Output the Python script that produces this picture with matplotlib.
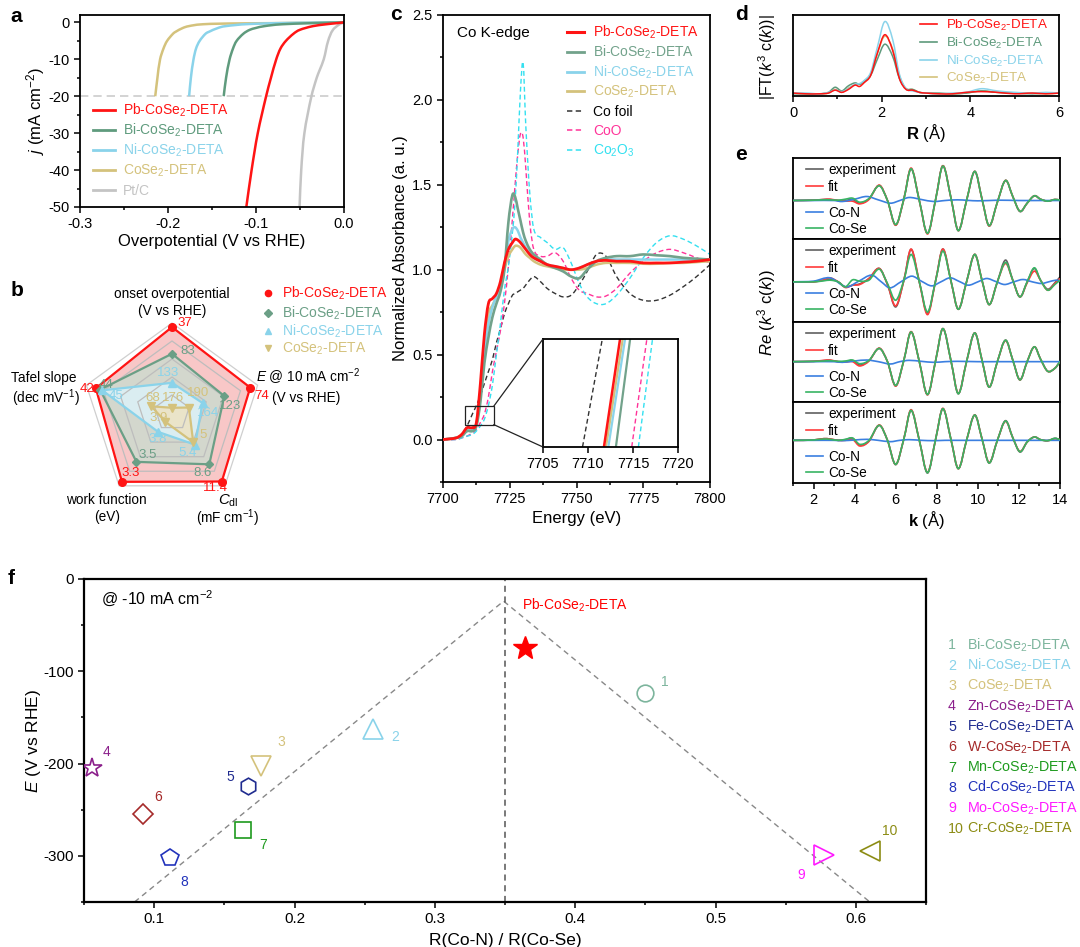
import numpy as np
import matplotlib
matplotlib.use("Agg")
import matplotlib.pyplot as plt
from matplotlib.path import Path
from matplotlib.patches import PathPatch, Rectangle, Polygon, ConnectionPatch
from matplotlib.lines import Line2D
from matplotlib.ticker import MultipleLocator, NullLocator, FormatStrFormatter

plt.rcParams['font.family'] = ['Liberation Sans', 'DejaVu Sans']
plt.rcParams['mathtext.fontset'] = 'custom'
plt.rcParams['mathtext.rm'] = 'Liberation Sans'
plt.rcParams['mathtext.it'] = 'Liberation Sans:italic'
plt.rcParams['mathtext.bf'] = 'Liberation Sans:bold'
plt.rcParams['axes.unicode_minus'] = False
plt.rcParams['axes.linewidth'] = 1.3

# ======================= DATA =======================
# ---- (a) LSV curves: current density j (mA cm-2) vs overpotential (V)
pb_j = [-50, -40, -30, -20, -15, -10, -7, -5, -3, -2, -1, -0.5, -0.2, 0]
pb_v = [-0.111, -0.105, -0.098, -0.0885, -0.083, -0.077, -0.072, -0.066, -0.057, -0.050, -0.035, -0.020, -0.008, 0.0]
bi_j = [-20, -15, -10, -7, -5, -3, -2, -1.5, -1, -0.5, -0.2, 0]
bi_v = [-0.1367, -0.134, -0.130, -0.126, -0.122, -0.114, -0.107, -0.100, -0.090, -0.070, -0.035, 0.0]
ni_j = [-20, -15, -10, -7, -5, -3, -2.5, -1.5, -1, -0.4, -0.1, 0]
ni_v = [-0.176, -0.174, -0.171, -0.168, -0.164, -0.157, -0.153, -0.143, -0.134, -0.104, -0.05, 0.0]
co_j = [-20, -15, -10, -7, -5, -3, -2.5, -1.5, -1, -0.5, -0.3, -0.2, 0]
co_v = [-0.2145, -0.212, -0.209, -0.205, -0.201, -0.194, -0.191, -0.183, -0.176, -0.160, -0.130, -0.080, 0.0]
pt_j = [-50, -40, -30, -20, -15, -13, -10, -5, -2, -0.5, 0]
pt_v = [-0.0505, -0.0486, -0.045, -0.037, -0.031, -0.0278, -0.023, -0.018, -0.0125, -0.005, 0.0]
lsv_names = ['Pb-CoSe$_2$-DETA', 'Bi-CoSe$_2$-DETA', 'Ni-CoSe$_2$-DETA', 'CoSe$_2$-DETA', 'Pt/C']
lsv_ref_j = -20

# ---- (b) radar
radar_axes = ['onset', 'E10', 'Cdl', 'WF', 'Tafel']
radar_pb = [37, 74, 11.4, 3.3, 42]
radar_bi = [83, 123, 8.6, 3.5, 44]
radar_ni = [133, 164, 5.4, 3.8, 45]
radar_co = [176, 190, 5, 3.9, 68]
radar_labels_pb = ['37', '74', '11.4', '3.3', '42']
radar_labels_bi = ['83', '123', '8.6', '3.5', '44']
radar_labels_ni = ['133', '164', '5.4', '3.8', '45']
radar_labels_co = ['176', '190', '5', '3.9', '68']
# value at centre (r=0) and at outer ring (r=1) for each axis
radar_lo = [185, 222, 0.24, 3.99, 77.6]
radar_hi = [30, 60, 12.1, 3.26, 37.6]
radar_names = ['Pb-CoSe$_2$-DETA', 'Bi-CoSe$_2$-DETA', 'Ni-CoSe$_2$-DETA', 'CoSe$_2$-DETA']

# ---- (c) XANES
E_grid = [7700, 7705, 7707, 7709, 7711, 7712.5, 7714, 7715.5, 7717, 7718.5, 7720, 7721.5, 7723, 7724.5,
          7726, 7727, 7728, 7729, 7730, 7731, 7732.5, 7734, 7736.5, 7739, 7742, 7745, 7748, 7751, 7754,
          7757.5, 7761, 7765, 7770, 7775, 7780, 7785, 7790, 7795, 7800]
xas_pb = [0.00, 0.01, 0.03, 0.07, 0.07, 0.10, 0.33, 0.62, 0.80, 0.83, 0.86, 0.93, 1.04, 1.12, 1.16, 1.18, 1.175,
          1.16, 1.14, 1.12, 1.09, 1.07, 1.05, 1.03, 1.02, 1.01, 1.00, 1.01, 1.03, 1.05, 1.055, 1.05, 1.05, 1.04,
          1.04, 1.04, 1.045, 1.05, 1.06]
xas_bi = [0.00, 0.01, 0.02, 0.05, 0.05, 0.08, 0.22, 0.45, 0.60, 0.72, 0.80, 0.87, 1.00, 1.28, 1.44, 1.43, 1.36,
          1.29, 1.22, 1.17, 1.12, 1.09, 1.06, 1.03, 1.01, 0.99, 0.96, 0.95, 1.00, 1.05, 1.07, 1.08, 1.08, 1.09,
          1.085, 1.08, 1.07, 1.065, 1.06]
xas_ni = [0.00, 0.01, 0.02, 0.05, 0.06, 0.09, 0.26, 0.52, 0.68, 0.78, 0.84, 0.90, 1.02, 1.17, 1.24, 1.25, 1.23,
          1.19, 1.16, 1.13, 1.10, 1.07, 1.05, 1.03, 1.02, 1.01, 1.00, 1.01, 1.03, 1.05, 1.06, 1.06, 1.06, 1.06,
          1.06, 1.06, 1.06, 1.06, 1.06]
xas_co = [0.00, 0.01, 0.03, 0.06, 0.07, 0.09, 0.28, 0.55, 0.74, 0.79, 0.84, 0.90, 1.00, 1.08, 1.12, 1.14, 1.14,
          1.13, 1.11, 1.09, 1.07, 1.05, 1.03, 1.02, 1.01, 1.00, 1.00, 1.00, 1.01, 1.03, 1.04, 1.04, 1.04, 1.035,
          1.035, 1.04, 1.04, 1.045, 1.05]
xas_foil = [0.00, 0.01, 0.03, 0.08, 0.15, 0.20, 0.26, 0.33, 0.40, 0.47, 0.57, 0.65, 0.74, 0.80, 0.85, 0.86, 0.87,
            0.88, 0.89, 0.91, 0.94, 0.96, 0.93, 0.89, 0.86, 0.84, 0.85, 0.91, 0.99, 1.09, 1.08, 0.96, 0.86, 0.82,
            0.82, 0.85, 0.90, 0.96, 1.03]
xas_coo = [0.00, 0.00, 0.01, 0.02, 0.04, 0.06, 0.10, 0.15, 0.25, 0.40, 0.52, 0.64, 0.80, 1.02, 1.30, 1.50, 1.68,
           1.80, 1.78, 1.60, 1.28, 1.12, 1.08, 1.08, 1.10, 1.05, 0.95, 0.88, 0.86, 0.84, 0.845, 0.89, 0.98, 1.05,
           1.10, 1.12, 1.10, 1.07, 1.04]
xas_co2o3 = [0.00, 0.00, 0.01, 0.02, 0.03, 0.05, 0.08, 0.12, 0.20, 0.32, 0.50, 0.68, 0.88, 1.02, 1.22, 1.40, 1.70,
             2.05, 2.22, 1.85, 1.45, 1.24, 1.19, 1.16, 1.12, 1.13, 1.04, 0.92, 0.84, 0.80, 0.80, 0.85, 0.95, 1.07,
             1.16, 1.20, 1.18, 1.14, 1.09]
xas_names = ['Pb-CoSe$_2$-DETA', 'Bi-CoSe$_2$-DETA', 'Ni-CoSe$_2$-DETA', 'CoSe$_2$-DETA', 'Co foil', 'CoO',
             'Co$_2$O$_3$']
# inset: edge energies at the two absorbance levels
inset_A = [0.09, 0.19]
inset_E_pb = [7711.77, 7713.56]
inset_E_bi = [7713.1, 7714.68]
inset_E_ni = [7712.26, 7714.12]
inset_E_co = [7712.0, 7713.86]
inset_E_foil = [7709.39, 7711.59]
inset_E_coo = [7714.86, 7716.54]
inset_E_co2o3 = [7715.6, 7717.17]
zoom_box_E = [7708.25, 7719.0]
zoom_box_A = [0.088, 0.196]

# ---- (d) FT-EXAFS
R_ft = [0.0, 0.3, 0.6, 0.8, 0.95, 1.1, 1.25, 1.4, 1.5, 1.6, 1.75, 1.9, 2.07, 2.25, 2.4, 2.55, 2.7, 2.85, 3.0,
        3.3, 3.6, 3.9, 4.25, 4.6, 5.0, 5.4, 5.7, 6.0]
ft_pb = [0.02, 0.01, 0.01, 0.02, 0.06, 0.03, 0.07, 0.13, 0.11, 0.16, 0.26, 0.56, 0.82, 0.60, 0.22, 0.07, 0.06,
         0.03, 0.02, 0.01, 0.01, 0.03, 0.04, 0.03, 0.01, 0.02, 0.01, 0.02]
ft_bi = [0.01, 0.01, 0.01, 0.03, 0.10, 0.05, 0.12, 0.16, 0.14, 0.18, 0.26, 0.48, 0.69, 0.52, 0.22, 0.08, 0.07,
         0.03, 0.02, 0.02, 0.01, 0.02, 0.05, 0.03, 0.02, 0.01, 0.02, 0.02]
ft_ni = [0.02, 0.02, 0.01, 0.03, 0.06, 0.04, 0.08, 0.14, 0.15, 0.19, 0.30, 0.64, 1.00, 0.75, 0.28, 0.08, 0.05,
         0.03, 0.02, 0.01, 0.02, 0.03, 0.08, 0.05, 0.03, 0.02, 0.03, 0.02]
ft_co = [0.02, 0.01, 0.01, 0.02, 0.07, 0.03, 0.09, 0.13, 0.14, 0.17, 0.28, 0.56, 0.80, 0.62, 0.26, 0.08, 0.07,
         0.03, 0.02, 0.01, 0.01, 0.02, 0.05, 0.03, 0.02, 0.02, 0.01, 0.02]

# ---- (e) k-space fits (4 samples, top to bottom)
k_e = [1.0, 2.0, 2.5, 2.8, 3.2, 3.55, 3.9, 4.25, 4.7, 5.2, 5.6, 6.0, 6.4, 6.75, 7.15, 7.55, 7.95, 8.3, 8.7,
       9.05, 9.45, 9.85, 10.2, 10.55, 10.95, 11.35, 11.7, 12.05, 12.4, 12.75, 13.05, 13.4, 13.75, 14.0]
exp1 = [0.00, 0.01, 0.03, 0.03, 0.00, 0.00, 0.03, -0.08, 0.05, 0.45, 0.00, -0.73, 0.05, 0.95, 0.00, -0.98, 0.05,
        1.04, 0.05, -0.90, 0.00, 0.87, 0.05, -0.76, -0.05, 0.60, 0.12, -0.33, -0.08, 0.14, 0.04, -0.02, 0.03, 0.01]
fit1 = [0.00, 0.01, 0.03, 0.04, 0.00, -0.02, -0.02, -0.10, 0.03, 0.46, 0.00, -0.74, 0.05, 0.97, 0.00, -1.00, 0.05,
        1.04, 0.05, -0.90, 0.00, 0.87, 0.05, -0.76, -0.05, 0.60, 0.12, -0.32, -0.08, 0.14, 0.04, -0.02, 0.03, 0.01]
cose1 = [0.00, 0.01, 0.02, 0.02, 0.01, 0.04, 0.07, -0.05, 0.06, 0.44, 0.00, -0.72, 0.05, 0.95, 0.00, -0.98, 0.05,
         1.03, 0.05, -0.90, 0.00, 0.87, 0.05, -0.75, -0.05, 0.60, 0.12, -0.32, -0.08, 0.14, 0.04, -0.02, 0.03, 0.01]
exp2 = [0.00, 0.00, 0.05, 0.08, 0.00, -0.15, -0.10, -0.06, 0.10, 0.40, -0.08, -0.75, 0.05, 0.97, 0.00, -0.93, 0.05,
        0.98, 0.00, -0.82, 0.00, 0.82, 0.05, -0.68, 0.00, 0.65, 0.05, -0.45, 0.00, 0.40, 0.05, -0.22, -0.03, 0.15]
fit2 = [0.00, 0.00, 0.06, 0.12, 0.00, -0.17, -0.10, -0.08, 0.10, 0.40, -0.08, -0.72, 0.05, 0.98, 0.00, -0.98, 0.05,
        0.98, 0.00, -0.82, 0.00, 0.82, 0.05, -0.68, 0.00, 0.55, 0.05, -0.45, -0.03, 0.32, 0.05, -0.25, -0.05, 0.10]
cose2 = [0.00, 0.00, 0.03, 0.05, 0.00, -0.15, 0.06, 0.02, 0.05, 0.38, -0.05, -0.55, 0.05, 0.82, 0.00, -0.90, 0.05,
         0.92, 0.00, -0.82, 0.00, 0.82, 0.05, -0.68, 0.00, 0.58, 0.05, -0.45, 0.00, 0.42, 0.05, -0.25, -0.08, 0.05]
exp3 = [0.00, 0.01, 0.03, 0.04, 0.00, 0.00, 0.03, -0.10, 0.03, 0.40, 0.00, -0.73, 0.05, 0.90, 0.00, -1.00, 0.05,
        1.00, 0.00, -0.97, 0.00, 0.87, 0.05, -0.77, 0.00, 0.65, 0.05, -0.55, 0.00, 0.45, 0.08, -0.29, -0.20, 0.00]
fit3 = [0.00, 0.01, 0.04, 0.05, 0.00, -0.01, 0.00, -0.13, 0.02, 0.41, 0.00, -0.74, 0.05, 0.91, 0.00, -1.00, 0.05,
        1.00, 0.00, -0.96, 0.00, 0.87, 0.05, -0.77, 0.00, 0.64, 0.05, -0.55, 0.00, 0.45, 0.08, -0.29, -0.20, 0.00]
cose3 = [0.00, 0.01, 0.02, 0.03, 0.01, 0.02, 0.05, -0.06, 0.04, 0.40, 0.00, -0.72, 0.05, 0.90, 0.00, -0.99, 0.05,
         1.00, 0.00, -0.97, 0.00, 0.87, 0.05, -0.77, 0.00, 0.65, 0.05, -0.55, 0.00, 0.45, 0.08, -0.29, -0.20, 0.00]
exp4 = [0.00, 0.01, 0.05, 0.04, 0.00, 0.02, 0.06, -0.14, -0.02, 0.45, 0.00, -0.73, 0.05, 0.90, 0.00, -0.98, 0.05,
        0.95, 0.00, -0.85, 0.00, 0.76, 0.05, -0.68, 0.00, 0.59, 0.08, -0.35, -0.05, 0.10, 0.02, -0.01, 0.06, 0.02]
fit4 = [0.00, 0.01, 0.05, 0.04, 0.00, 0.00, 0.03, -0.17, -0.03, 0.46, 0.00, -0.72, 0.05, 0.92, 0.00, -0.96, 0.05,
        0.96, 0.00, -0.85, 0.00, 0.76, 0.05, -0.67, 0.00, 0.57, 0.08, -0.33, -0.05, 0.10, 0.02, -0.01, 0.05, 0.02]
cose4 = [0.00, 0.01, 0.04, 0.03, 0.00, 0.03, 0.07, -0.12, 0.00, 0.45, 0.00, -0.72, 0.05, 0.90, 0.00, -0.97, 0.05,
         0.95, 0.00, -0.85, 0.00, 0.76, 0.05, -0.68, 0.00, 0.58, 0.08, -0.34, -0.05, 0.10, 0.02, -0.01, 0.06, 0.02]
k_cn = [1.0, 2.0, 3.0, 3.4, 4.0, 4.6, 5.15, 5.75, 6.2, 6.65, 7.25, 7.85, 8.4, 9.0, 10.0, 11.0, 12.0, 13.0, 14.0]
cn1 = [0.0, 0.0, 0.0, -0.03, 0.04, 0.12, 0.02, -0.08, 0.0, 0.09, 0.03, -0.03, 0.0, 0.02, -0.01, 0.01, 0.0, 0.0, 0.0]
cn3 = [0.0, 0.0, 0.0, -0.02, 0.02, 0.05, 0.0, -0.07, 0.0, 0.04, 0.01, -0.02, 0.0, 0.01, 0.0, 0.0, 0.0, 0.0, 0.0]
cn4 = [0.0, 0.0, 0.0, -0.01, 0.01, 0.03, 0.0, -0.04, 0.0, 0.02, 0.0, -0.01, 0.0, 0.0, 0.0, 0.0, 0.0, 0.0, 0.0]
k_cn2 = [1.0, 2.0, 2.8, 3.6, 4.2, 4.83, 5.3, 5.72, 6.25, 6.78, 7.25, 7.75, 8.2, 8.65, 9.1, 9.54, 10.0, 10.43,
         10.87, 11.3, 11.75, 12.2, 12.65, 13.1, 13.45, 13.8, 14.0]
cn2 = [0.0, 0.02, 0.12, -0.15, 0.02, 0.20, 0.0, -0.18, 0.0, 0.17, 0.02, -0.12, 0.0, 0.12, 0.01, -0.10, 0.0, 0.10,
       0.01, -0.08, 0.0, 0.07, 0.0, -0.05, 0.0, 0.05, 0.03]
e_names = ['experiment', 'fit', 'Co-N', 'Co-Se']

# ---- (f) volcano
f_ratio = [0.45, 0.256, 0.176, 0.056, 0.167, 0.092, 0.163, 0.111, 0.577, 0.610]
f_E = [-123, -162, -203, -205, -224.5, -255, -272.5, -302.5, -298.7, -295]
f_names = ['Bi-CoSe$_2$-DETA', 'Ni-CoSe$_2$-DETA', 'CoSe$_2$-DETA', 'Zn-CoSe$_2$-DETA', 'Fe-CoSe$_2$-DETA',
           'W-CoSe$_2$-DETA', 'Mn-CoSe$_2$-DETA', 'Cd-CoSe$_2$-DETA', 'Mo-CoSe$_2$-DETA', 'Cr-CoSe$_2$-DETA']
pb_ratio, pb_E = 0.364, -75
guide_x = [0.086, 0.349, 0.61]
guide_y = [-350, -24, -350]
f_vline = 0.35

# ======================= STYLE =======================
C_PB = '#ff1414'
C_BI = '#5f9b7d'
C_NI = '#8ad3ea'
C_CO = '#d4c27c'
C_PT = '#c4c4c4'
f_colors = ['#7db59d', '#8ad3ea', '#d4c27c', '#8b1f8b', '#1f2b8f', '#a52a2a', '#1e9a1e', '#2233bb', '#ff1aff',
            '#8c8c14']
f_markers = ['o', '^', 'v', '*', 'h', 'D', 's', 'p', '>', '<']
f_ms = [12, 14, 14, 15, 12, 10, 11, 13, 14, 14]
f_offsets = [(13.7, 7.9), (15.8, -5.8), (14.4, 17.3), (10, 11.5), (-13, 6.5), (10.8, 12.2), (15.1, -10.8),
             (10.8, -17.3), (-15.8, -14.4), (14.4, 14.4)]

W, H = 1080, 947
fig = plt.figure(figsize=(10.8, 9.47), dpi=100)


def rect(x0, y0, x1, y1):
    return [x0 / W, 1 - y1 / H, (x1 - x0) / W, (y1 - y0) / H]


def smooth(ax, x, y, color, lw=1.5, ls='-', z=2, swap=False):
    x = np.asarray(x, float)
    y = np.asarray(y, float)
    n = len(x)
    m = np.empty(n)
    m[1:-1] = (y[2:] - y[:-2]) / (x[2:] - x[:-2])
    m[0] = (y[1] - y[0]) / (x[1] - x[0])
    m[-1] = (y[-1] - y[-2]) / (x[-1] - x[-2])
    verts = [(x[0], y[0])]
    codes = [Path.MOVETO]
    for i in range(n - 1):
        h = x[i + 1] - x[i]
        verts += [(x[i] + h / 3, y[i] + m[i] * h / 3), (x[i + 1] - h / 3, y[i + 1] - m[i + 1] * h / 3),
                  (x[i + 1], y[i + 1])]
        codes += [Path.CURVE4] * 3
    if swap:
        verts = [(b, a) for a, b in verts]
    p = PathPatch(Path(verts, codes), facecolor='none', edgecolor=color, lw=lw, linestyle=ls, zorder=z,
                  capstyle='butt', joinstyle='round')
    ax.add_patch(p)
    return p


def fig_text(px, py, s, color='black', fs=10, ha='left', **kw):
    # py = vertical centre of the capitals, in pixels from the top
    fig.text(px / W, 1 - (py + 0.36 * fs * 100 / 72) / H, s, color=color, fontsize=fs, ha=ha, va='baseline', **kw)


def fig_handle(x0, x1, py, color, lw=1.5, ls='-', marker=None, ms=5):
    if marker is None:
        fig.add_artist(Line2D([x0 / W, x1 / W], [1 - py / H] * 2, transform=fig.transFigure, color=color,
                              lw=lw, ls=ls))
    else:
        fig.add_artist(Line2D([x0 / W], [1 - py / H], transform=fig.transFigure, color=color, ls='none',
                              marker=marker, ms=ms))


def panel_label(txt, px, py):
    fig.text(px / W, 1 - py / H, txt, fontsize=15, fontweight='bold', ha='center', va='center')


def style_ticks(ax, size=10):
    ax.tick_params(which='both', direction='out', width=1.1, labelsize=size)
    ax.tick_params(which='major', length=4)
    ax.tick_params(which='minor', length=2.5)


# ======================= (a) =======================
axa = fig.add_axes(rect(80, 15, 344, 207))
smooth(axa, pt_j, pt_v, C_PT, 1.8, swap=True)
smooth(axa, co_j, co_v, C_CO, 1.8, swap=True)
smooth(axa, ni_j, ni_v, C_NI, 1.8, swap=True)
smooth(axa, bi_j, bi_v, C_BI, 1.8, swap=True)
smooth(axa, pb_j, pb_v, C_PB, 1.8, swap=True)
axa.axhline(lsv_ref_j, color='#cccccc', ls=(0, (5, 3)), lw=1.2, zorder=1)
axa.set_xlim(-0.3, 0.0)
axa.set_ylim(-50, 2)
axa.xaxis.set_major_locator(MultipleLocator(0.1))
axa.xaxis.set_minor_locator(MultipleLocator(0.05))
axa.yaxis.set_major_locator(MultipleLocator(10))
axa.yaxis.set_minor_locator(MultipleLocator(5))
axa.xaxis.set_major_formatter(FormatStrFormatter('%.1f'))
style_ticks(axa, 10.5)
axa.set_xlabel('Overpotential (V vs RHE)', fontsize=12, labelpad=2)
axa.set_ylabel('$j$ (mA cm$^{-2}$)', fontsize=12, labelpad=1)
for i, (nm, c) in enumerate(zip(lsv_names, [C_PB, C_BI, C_NI, C_CO, C_PT])):
    y = 110 + 20 * i
    fig_handle(93, 115, y, c, 2.0)
    fig_text(123, y, nm, c, 10)
panel_label('a', 16, 16)

# ======================= (b) radar =======================
axb = fig.add_axes(rect(0, 270, 420, 540))
axb.set_xlim(0, 420)
axb.set_ylim(540, 270)
axb.axis('off')
cx, cy, RR = 172, 413, 90
ang = np.deg2rad([90, 18, -54, -126, 162])


def radar_xy(vals):
    fr = np.array([(v - lo) / (hi - lo) for v, lo, hi in zip(vals, radar_lo, radar_hi)])
    return cx + RR * fr * np.cos(ang), cy - RR * fr * np.sin(ang)


C_BIb = '#6b9f86'
series = [(radar_pb, C_PB, '#f7bdbd', 'o', 5.5, radar_labels_pb,
           [(13, -4), (11, 8), (-6, 6), (9, -9), (-9, 1)]),
          (radar_bi, C_BIb, '#cddbcf', 'D', 4.5, radar_labels_bi,
           [(6, -5), (6, 10), (-7, 9), (11, -7), (6, -3)][:0] or [(16, -3), (6, 10), (-7, 9), (11, -7), (6, -5)]),
          (radar_ni, C_NI, '#dcf1f8', '^', 5.5, radar_labels_ni,
           [(-4, -10), (5, 10), (-7, 8), (-1, 7), (14, 6)]),
          (radar_co, C_CO, '#eee3c2', 'v', 5.5, radar_labels_co,
           [(1, -10), (9, -15), (10, -7), (-7, -4), (1, -8)])]
for i, (vals, col, fillc, mk, ms, labs, offs) in enumerate(series):
    xs, ys = radar_xy(vals)
    axb.add_patch(Polygon(np.column_stack([xs, ys]), closed=True, facecolor=fillc, edgecolor='none',
                          alpha=0.85, zorder=1 + i * 0.1))
for lev in [0.2, 0.4, 0.6, 0.8, 1.0]:
    gx = cx + RR * lev * np.cos(ang)
    gy = cy - RR * lev * np.sin(ang)
    axb.add_patch(Polygon(np.column_stack([gx, gy]), closed=True, fill=False,
                          edgecolor='#bdbdbd' if lev < 1 else '#cfcfcf', lw=0.9, zorder=2))
for i, (vals, col, fillc, mk, ms, labs, offs) in enumerate(series):
    xs, ys = radar_xy(vals)
    axb.plot(np.append(xs, xs[0]), np.append(ys, ys[0]), color=col, lw=1.6, zorder=3 + i * 0.1)
    axb.plot(xs, ys, ls='none', marker=mk, ms=ms, color=col, zorder=4 + i * 0.1)
    for x, y, t, (dx, dy) in zip(xs, ys, labs, offs):
        axb.text(x + dx, y + dy, t, color=col, fontsize=9.5, ha='center', va='center', zorder=6)

tfs = 9.8
axb.text(172, 294, 'onset overpotential', fontsize=tfs, ha='center', va='center')
axb.text(172, 311, '(V vs RHE)', fontsize=tfs, ha='center', va='center')
axb.text(44, 378, 'Tafel slope', fontsize=tfs, ha='center', va='center')
axb.text(46, 398, '(dec mV$^{-1}$)', fontsize=tfs, ha='center', va='center')
axb.text(308, 377, '$E$ @ 10 mA cm$^{-2}$', fontsize=tfs, ha='center', va='center')
axb.text(306, 398, '(V vs RHE)', fontsize=tfs, ha='center', va='center')
axb.text(106, 500, 'work function', fontsize=tfs, ha='center', va='center')
axb.text(107, 517, '(eV)', fontsize=tfs, ha='center', va='center')
axb.text(228, 501, '$C_{\\mathrm{dl}}$', fontsize=tfs + 1, ha='center', va='center')
axb.text(228, 518, '(mF cm$^{-1}$)', fontsize=tfs, ha='center', va='center')
for i, (nm, c, mk, ms) in enumerate(zip(radar_names, [C_PB, C_BIb, C_NI, C_CO], ['o', 'D', '^', 'v'],
                                        [4.5, 4, 4.5, 4.5])):
    y = [293, 313, 331, 348][i]
    fig_handle(268, 268, y, c, marker=mk, ms=ms)
    fig_text(282, y, nm, c, 10)
panel_label('b', 17, 290)

# ======================= (c) XANES =======================
axc = fig.add_axes(rect(443, 15, 710, 482))
dash = (0, (3.5, 2.2))
C_FOIL, C_COO, C_CO2O3, C_BIc = '#333333', '#ff3399', '#33e0f0', '#72a28b'
smooth(axc, E_grid, xas_foil, C_FOIL, 1.0, ls=dash, z=2)
smooth(axc, E_grid, xas_coo, C_COO, 1.0, ls=dash, z=2)
smooth(axc, E_grid, xas_co2o3, C_CO2O3, 1.0, ls=dash, z=2)
smooth(axc, E_grid, xas_co, C_CO, 1.8, z=3)
smooth(axc, E_grid, xas_ni, C_NI, 1.8, z=3)
smooth(axc, E_grid, xas_bi, C_BIc, 1.9, z=3)
smooth(axc, E_grid, xas_pb, C_PB, 2.0, z=4)
axc.set_xlim(7700, 7800)
axc.set_ylim(-0.25, 2.5)
axc.xaxis.set_major_locator(MultipleLocator(25))
axc.xaxis.set_minor_locator(MultipleLocator(12.5))
axc.yaxis.set_major_locator(MultipleLocator(0.5))
axc.yaxis.set_minor_locator(MultipleLocator(0.25))
axc.yaxis.set_major_formatter(FormatStrFormatter('%.1f'))
style_ticks(axc, 10.5)
axc.set_xlabel('Energy (eV)', fontsize=12, labelpad=3)
axc.set_ylabel('Normalized Absorbance (a. u.)', fontsize=12, labelpad=3)
fig_text(457, 32, 'Co K-edge', 'black', 11)
c_cols = [C_PB, C_BIc, C_NI, C_CO, C_FOIL, C_COO, C_CO2O3]
c_txt = [C_PB, C_BIc, C_NI, C_CO, 'black', C_COO, C_CO2O3]
c_ls = ['-', '-', '-', '-', dash, dash, dash]
c_lw = [2.2, 2.0, 2.0, 2.0, 1.1, 1.1, 1.1]
for i, nm in enumerate(xas_names):
    y = [32, 52, 72, 91, 111, 130, 150][i]
    fig_handle(567, 584, y, c_cols[i], c_lw[i], c_ls[i])
    fig_text(593, y, nm, c_txt[i], 10)
axc.add_patch(Rectangle((zoom_box_E[0], zoom_box_A[0]), zoom_box_E[1] - zoom_box_E[0],
                        zoom_box_A[1] - zoom_box_A[0], fill=False, ec='#222222', lw=0.9, zorder=6))
axi = fig.add_axes(rect(543, 339, 678, 447))
for e, c, ls, lw in [(inset_E_foil, C_FOIL, dash, 1.0), (inset_E_coo, C_COO, dash, 1.0),
                     (inset_E_co2o3, C_CO2O3, dash, 1.0), (inset_E_co, C_CO, '-', 1.6),
                     (inset_E_ni, C_NI, '-', 1.6), (inset_E_bi, C_BIc, '-', 1.6), (inset_E_pb, C_PB, '-', 1.8)]:
    axi.plot(e, inset_A, color=c, ls=ls, lw=lw)
axi.set_xlim(7705, 7720)
axi.set_ylim(inset_A[0], inset_A[1])
axi.set_xticks([7705, 7710, 7715, 7720])
axi.yaxis.set_major_locator(NullLocator())
style_ticks(axi, 10.5)
for xyA, xyB in [((zoom_box_E[1], zoom_box_A[1]), (0, 1)), ((zoom_box_E[1], zoom_box_A[0]), (0, 0))]:
    con = ConnectionPatch(xyA=xyA, coordsA=axc.transData, xyB=xyB, coordsB=axi.transAxes, color='#222222',
                          lw=0.9)
    fig.add_artist(con)
panel_label('c', 396, 15)

# ======================= (d) FT =======================
axd = fig.add_axes(rect(793, 15, 1059, 96))
C_BId = '#5e9a7c'
smooth(axd, R_ft, ft_co, C_CO, 1.1)
smooth(axd, R_ft, ft_bi, C_BId, 1.1)
smooth(axd, R_ft, ft_ni, C_NI, 1.1)
smooth(axd, R_ft, ft_pb, C_PB, 1.1)
axd.set_xlim(0, 6)
axd.set_ylim(-0.02, 1.09)
axd.xaxis.set_major_locator(MultipleLocator(2))
axd.xaxis.set_minor_locator(MultipleLocator(1))
axd.yaxis.set_major_locator(NullLocator())
style_ticks(axd, 10.5)
axd.set_xlabel('$\\mathbf{R}$ (Å)', fontsize=12, labelpad=1)
for i, (nm, c) in enumerate(zip(radar_names, [C_PB, C_BId, C_NI, C_CO])):
    y = [24, 42, 60, 77][i]
    fig_handle(920, 937, y, c, 1.2)
    fig_text(946, y, nm, c, 9.6)
fig.text(767 / W, 1 - 57 / H, '|FT($k^3$ c($k$))|', rotation=90, fontsize=11.5, ha='center', va='center')
panel_label('d', 741, 15)

# ======================= (e) k-space =======================
bounds = [158, 239, 322, 402, 483]
e_data = [(exp1, fit1, cose1, k_cn, cn1, (-1.15, 1.27)),
          (exp2, fit2, cose2, k_cn2, cn2, (-1.20, 1.28)),
          (exp3, fit3, cose3, k_cn, cn3, (-1.22, 1.20)),
          (exp4, fit4, cose4, k_cn, cn4, (-1.28, 1.15))]
C_EXP, C_FIT, C_CN, C_CS = '#606060', '#ff3b3b', '#3b7fe0', '#38b464'
for i, (ex, ft, cs, kc, cn, yl) in enumerate(e_data):
    ax = fig.add_axes(rect(793, bounds[i], 1060, bounds[i + 1]))
    smooth(ax, k_e, ex, C_EXP, 1.2, z=2)
    smooth(ax, k_e, ft, C_FIT, 1.2, z=3)
    smooth(ax, kc, cn, C_CN, 1.2, z=4)
    smooth(ax, k_e, cs, C_CS, 1.2, z=5)
    ax.set_xlim(1, 14)
    ax.set_ylim(*yl)
    ax.yaxis.set_major_locator(NullLocator())
    if i < 3:
        ax.xaxis.set_major_locator(NullLocator())
    else:
        ax.xaxis.set_major_locator(MultipleLocator(2))
        ax.xaxis.set_minor_locator(MultipleLocator(1))
        style_ticks(ax, 10.5)
        ax.set_xlabel('$\\mathbf{k}$ (Å)', fontsize=12, labelpad=1)
    top = bounds[i]
    for nm, c, dy in zip(e_names, [C_EXP, C_FIT, C_CN, C_CS], [11, 28, 54, 70]):
        fig_handle(806, 823, top + dy, c, 1.2)
        fig_text(828, top + dy, nm, 'black', 9.8)
fig.text(767 / W, 1 - 313 / H, '$Re$ ($k^3$ c($k$))', rotation=90, fontsize=12, ha='center', va='center')
panel_label('e', 741, 155)

# ======================= (f) volcano =======================
axf = fig.add_axes(rect(84, 579, 926, 902))
axf.plot(guide_x, guide_y, color='#888888', ls=(0, (4, 3)), lw=1.0, zorder=1)
axf.axvline(f_vline, color='#555555', ls=(0, (4, 3)), lw=1.1, zorder=1)
for i in range(len(f_ratio)):
    axf.plot(f_ratio[i], f_E[i], marker=f_markers[i], ms=f_ms[i], mfc='none', mec=f_colors[i], mew=1.2,
             ls='none', zorder=3)
    axf.annotate(str(i + 1), (f_ratio[i], f_E[i]), xytext=f_offsets[i], textcoords='offset points',
                 ha='center', va='center', color=f_colors[i], fontsize=10)
axf.plot(pb_ratio, pb_E, marker='*', ms=18, color='#ff0000', ls='none', zorder=4)
axf.text(0.362, -28, 'Pb-CoSe$_2$-DETA', color='#ff0000', fontsize=10, ha='left', va='center')
axf.text(0.02, 0.94, '@ -10 mA cm$^{-2}$', transform=axf.transAxes, fontsize=11.5, ha='left', va='center')
axf.set_xlim(0.05, 0.65)
axf.set_ylim(-350, 0)
axf.xaxis.set_major_locator(MultipleLocator(0.1))
axf.xaxis.set_minor_locator(MultipleLocator(0.05))
axf.yaxis.set_major_locator(MultipleLocator(100))
axf.yaxis.set_minor_locator(MultipleLocator(50))
axf.xaxis.set_major_formatter(FormatStrFormatter('%.1f'))
style_ticks(axf, 11)
for s in axf.spines.values():
    s.set_linewidth(1.6)
axf.set_xlabel('R(Co-N) / R(Co-Se)', fontsize=12.5, labelpad=5)
axf.set_ylabel('$E$ (V vs RHE)', fontsize=12.5, labelpad=0)
for i, (nm, c) in enumerate(zip(f_names, f_colors)):
    y = 644 + i * 20.4
    fig_text(948, y, str(i + 1), c, 10.3)
    fig_text(967, y, nm, c, 10.3)
panel_label('f', 11, 578)

fig.savefig('out.png', dpi=100)
